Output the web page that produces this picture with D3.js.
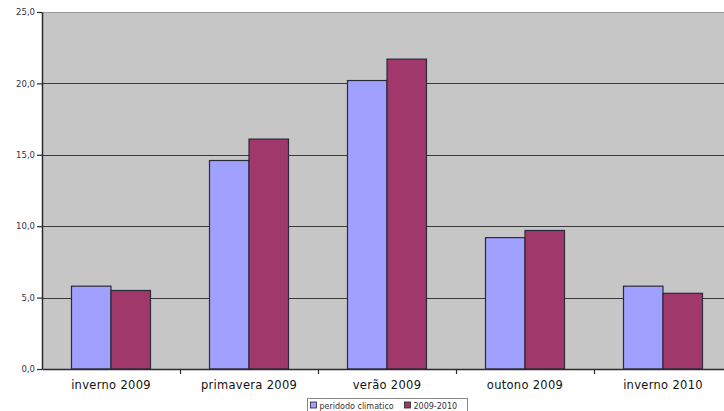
<!DOCTYPE html>
<html>
<head>
<meta charset="utf-8">
<script src="https://cdn.jsdelivr.net/npm/d3@7"></script>
<style>
  html, body { margin: 0; padding: 0; background: #ffffff; overflow: hidden; }
  svg { display: block; }
</style>
</head>
<body>
<script>
// Seasons and the two series compared
const categories = ["inverno 2009", "primavera 2009", "verão 2009", "outono 2009", "inverno 2010"];
const seriesNames = ["peridodo climatico", "2009-2010"];
const periodoClimatico = [5.8, 14.6, 20.2, 9.2, 5.8];
const serie20092010 = [5.5, 16.1, 21.7, 9.7, 5.3];
const yTicks = [0, 5, 10, 15, 20, 25];

const W = 724, H = 411;
const plot = { left: 42, top: 12, right: 732, bottom: 369 };
const colors = ["#a0a0ff", "#a0386c"];

const svg = d3.select("body").append("svg")
  .attr("width", W).attr("height", H);

const x = d3.scaleBand().domain(categories).range([plot.left, plot.right]).padding(0);
const xs = d3.scaleBand().domain(seriesNames).range([0, x.bandwidth()])
  .paddingInner(0).paddingOuter(0.747);
const y = d3.scaleLinear().domain([0, 25]).range([plot.bottom, plot.top]);

// plot area background
svg.append("rect")
  .attr("x", plot.left).attr("y", plot.top)
  .attr("width", plot.right - plot.left).attr("height", plot.bottom - plot.top)
  .attr("fill", "#c6c6c6");
svg.append("line")
  .attr("x1", plot.left).attr("x2", plot.right)
  .attr("y1", plot.top + 0.5).attr("y2", plot.top + 0.5)
  .attr("stroke", "#9a9a9a").attr("stroke-width", 1);

// horizontal gridlines
svg.append("g").selectAll("line")
  .data(yTicks.filter(d => d > 0 && d < 25))
  .join("line")
  .attr("x1", plot.left).attr("x2", plot.right)
  .attr("y1", d => Math.round(y(d)) + 0.5).attr("y2", d => Math.round(y(d)) + 0.5)
  .attr("stroke", "#3a3a3a").attr("stroke-width", 1.2);

// bars
const rows = categories.map((c, i) => ({ cat: c, vals: [periodoClimatico[i], serie20092010[i]] }));
svg.append("g").selectAll("g")
  .data(rows)
  .join("g")
  .attr("transform", d => `translate(${x(d.cat)},0)`)
  .selectAll("rect")
  .data(d => d.vals.map((v, j) => ({ key: seriesNames[j], v, j })))
  .join("rect")
  .attr("x", d => xs(d.key))
  .attr("y", d => y(d.v))
  .attr("width", xs.bandwidth())
  .attr("height", d => y(0) - y(d.v))
  .attr("fill", d => colors[d.j])
  .attr("stroke", "#2a2a3a")
  .attr("stroke-width", 1.2);

// y axis
const yAxis = d3.axisLeft(y).tickValues(yTicks).tickSize(5).tickSizeOuter(0)
  .tickFormat(d => d3.format(".1f")(d).replace(".", ","));
const gy = svg.append("g").attr("transform", `translate(${plot.left},0)`).call(yAxis);
gy.select(".domain").attr("stroke", "#2a2a2a").attr("stroke-width", 1.5);
gy.selectAll(".tick line").attr("stroke", "#2a2a2a").attr("stroke-width", 1.2);
gy.selectAll(".tick text")
  .attr("x", -7)
  .attr("font-family", "Verdana, 'DejaVu Sans', sans-serif")
  .attr("font-size", 8.5).attr("fill", "#334");

// x axis
const xAxis = d3.axisBottom(x).tickSize(0).tickSizeOuter(0);
const gx = svg.append("g").attr("transform", `translate(0,${plot.bottom})`).call(xAxis);
gx.select(".domain").attr("stroke", "#2a2a2a").attr("stroke-width", 1.5);
gx.selectAll(".tick text")
  .attr("y", 12)
  .attr("font-family", "'DejaVu Sans', Verdana, sans-serif")
  .attr("font-size", 11.5).attr("letter-spacing", 0.3).attr("fill", "#111");
// category separators below the axis
svg.append("g").selectAll("line")
  .data(categories.slice(1))
  .join("line")
  .attr("x1", d => x(d) + 0.5).attr("x2", d => x(d) + 0.5)
  .attr("y1", plot.bottom).attr("y2", plot.bottom + 5)
  .attr("stroke", "#2a2a2a").attr("stroke-width", 1.2);

// legend
const lg = svg.append("g").attr("transform", "translate(307.5,398.5)");
lg.append("rect").attr("width", 160).attr("height", 16)
  .attr("fill", "#fff").attr("stroke", "#888");
const items = [{ name: seriesNames[0], dx: 3 }, { name: seriesNames[1], dx: 97 }];
items.forEach((it, j) => {
  lg.append("rect").attr("x", it.dx).attr("y", 3.5).attr("width", 6).attr("height", 6)
    .attr("fill", colors[j]).attr("stroke", "#222").attr("stroke-width", 0.8);
  lg.append("text").attr("x", it.dx + 9).attr("y", 10)
    .attr("font-family", "Verdana, 'DejaVu Sans', sans-serif")
    .attr("font-size", 8).attr("fill", "#333").text(it.name);
});
</script>
</body>
</html>
